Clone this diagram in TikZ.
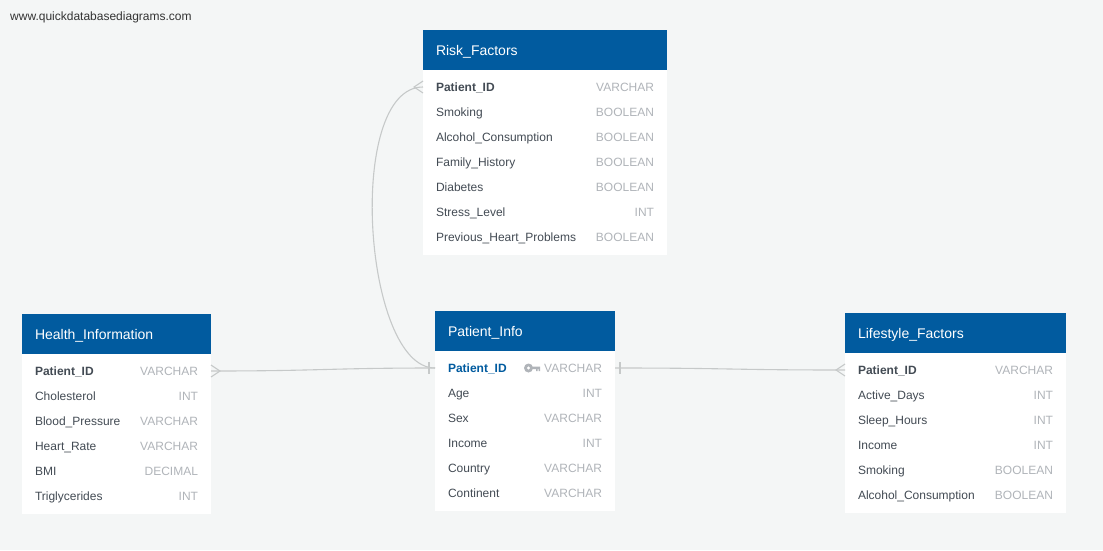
\documentclass[tikz,border=0pt]{standalone}
\usepackage{fontspec}
\setmainfont{Liberation Sans}
\usetikzlibrary{positioning}
\definecolor{pagebg}{HTML}{F4F6F6}
\definecolor{headblue}{HTML}{015B9F}
\definecolor{fieldgrey}{HTML}{434B54}
\definecolor{typegrey}{HTML}{B0B4B9}
\definecolor{linkgrey}{HTML}{C6C9C9}

\begin{document}
\begin{tikzpicture}[x=1pt,y=-1pt,link/.style={draw=linkgrey,line width=1.1pt},
                        title node/.style={anchor=north west,fill=headblue,text=white,font=\fontsize{14}{16}\selectfont,align=left,inner xsep=13pt,inner ysep=0pt,outer sep=0pt,minimum height=40pt,text height=13pt,text depth=3pt},
                        body node/.style={anchor=north west,fill=white,inner sep=0pt,outer sep=0pt},
                        field node/.style={anchor=west,inner sep=0pt,outer sep=0pt,text=fieldgrey,font=\fontsize{12}{14}\selectfont,text height=11pt,text depth=3pt},
                        pk node/.style={field node,font=\fontsize{12}{14}\selectfont\bfseries},
                        type node/.style={anchor=east,xshift=-13pt,inner sep=0pt,outer sep=0pt,text=typegrey,font=\fontsize{12}{14}\selectfont,text height=11pt,text depth=3pt}]

      \fill[pagebg] (0,0) rectangle (1103,550);
      \node[anchor=west,inner sep=0pt,text=black!80,font=\fontsize{12}{14}\selectfont,text height=11pt,text depth=3pt] (site) at (10,16) {www.quickdatabasediagrams.com};

      % Risk_Factors
      \node[title node,text width=218pt] (risk) at (423,30) {Risk\_Factors};
      \node[body node,minimum width=244pt,minimum height=185pt] (riskbody) at (risk.south west) {};
      \node[pk node] (risk1) at (436,87) {Patient\_ID};
      \node[below=25pt of risk1.west,field node] (risk2) {Smoking};
      \node[below=25pt of risk2.west,field node] (risk3) {Alcohol\_Consumption};
      \node[below=25pt of risk3.west,field node] (risk4) {Family\_History};
      \node[below=25pt of risk4.west,field node] (risk5) {Diabetes};
      \node[below=25pt of risk5.west,field node] (risk6) {Stress\_Level};
      \node[below=25pt of risk6.west,field node] (risk7) {Previous\_Heart\_Problems};
      \node[type node] (risk1t) at (riskbody.east |- risk1) {VARCHAR};
      \node[type node] (risk2t) at (riskbody.east |- risk2) {BOOLEAN};
      \node[type node] (risk3t) at (riskbody.east |- risk3) {BOOLEAN};
      \node[type node] (risk4t) at (riskbody.east |- risk4) {BOOLEAN};
      \node[type node] (risk5t) at (riskbody.east |- risk5) {BOOLEAN};
      \node[type node] (risk6t) at (riskbody.east |- risk6) {INT};
      \node[type node] (risk7t) at (riskbody.east |- risk7) {BOOLEAN};

      % Health_Information
      \node[title node,text width=163pt] (health) at (22,314) {Health\_Information};
      \node[body node,minimum width=189pt,minimum height=160pt] (healthbody) at (health.south west) {};
      \node[pk node] (health1) at (35,371) {Patient\_ID};
      \node[below=25pt of health1.west,field node] (health2) {Cholesterol};
      \node[below=25pt of health2.west,field node] (health3) {Blood\_Pressure};
      \node[below=25pt of health3.west,field node] (health4) {Heart\_Rate};
      \node[below=25pt of health4.west,field node] (health5) {BMI};
      \node[below=25pt of health5.west,field node] (health6) {Triglycerides};
      \node[type node] (health1t) at (healthbody.east |- health1) {VARCHAR};
      \node[type node] (health2t) at (healthbody.east |- health2) {INT};
      \node[type node] (health3t) at (healthbody.east |- health3) {VARCHAR};
      \node[type node] (health4t) at (healthbody.east |- health4) {VARCHAR};
      \node[type node] (health5t) at (healthbody.east |- health5) {DECIMAL};
      \node[type node] (health6t) at (healthbody.east |- health6) {INT};

      % Patient_Info
      \node[title node,text width=154pt] (patient) at (435,311) {Patient\_Info};
      \node[body node,minimum width=180pt,minimum height=160pt] (patientbody) at (patient.south west) {};
      \node[pk node,text=headblue] (patient1) at (448,368) {Patient\_ID};
      \node[below=25pt of patient1.west,field node] (patient2) {Age};
      \node[below=25pt of patient2.west,field node] (patient3) {Sex};
      \node[below=25pt of patient3.west,field node] (patient4) {Income};
      \node[below=25pt of patient4.west,field node] (patient5) {Country};
      \node[below=25pt of patient5.west,field node] (patient6) {Continent};
      \node[type node] (patient1t) at (patientbody.east |- patient1) {VARCHAR};
      \node[type node] (patient2t) at (patientbody.east |- patient2) {INT};
      \node[type node] (patient3t) at (patientbody.east |- patient3) {VARCHAR};
      \node[type node] (patient4t) at (patientbody.east |- patient4) {INT};
      \node[type node] (patient5t) at (patientbody.east |- patient5) {VARCHAR};
      \node[type node] (patient6t) at (patientbody.east |- patient6) {VARCHAR};

      % key in front of the primary key type
      \fill[typegrey,even odd rule] (528.5,368) circle (4.5pt) (528.5,368) circle (1.8pt);
      \fill[typegrey] (532,366.6) rectangle (540,369) (536,369) rectangle (537.5,371) (538.5,369) rectangle (540,371);

      % Lifestyle_Factors
      \node[title node,text width=195pt] (life) at (845,313) {Lifestyle\_Factors};
      \node[body node,minimum width=221pt,minimum height=160pt] (lifebody) at (life.south west) {};
      \node[pk node] (life1) at (858,370) {Patient\_ID};
      \node[below=25pt of life1.west,field node] (life2) {Active\_Days};
      \node[below=25pt of life2.west,field node] (life3) {Sleep\_Hours};
      \node[below=25pt of life3.west,field node] (life4) {Income};
      \node[below=25pt of life4.west,field node] (life5) {Smoking};
      \node[below=25pt of life5.west,field node] (life6) {Alcohol\_Consumption};
      \node[type node] (life1t) at (lifebody.east |- life1) {VARCHAR};
      \node[type node] (life2t) at (lifebody.east |- life2) {INT};
      \node[type node] (life3t) at (lifebody.east |- life3) {INT};
      \node[type node] (life4t) at (lifebody.east |- life4) {INT};
      \node[type node] (life5t) at (lifebody.east |- life5) {BOOLEAN};
      \node[type node] (life6t) at (lifebody.east |- life6) {BOOLEAN};

      % ports on the table edges
      \coordinate (riskport) at (riskbody.west |- risk1);
      \coordinate (healthport) at (healthbody.east |- health1);
      \coordinate (patientin) at (patientbody.west |- patient1);
      \coordinate (patientout) at (patientbody.east |- patient1);
      \coordinate (lifeport) at (lifebody.west |- life1);

      \draw[link] (riskport) .. controls (345,87) and (363,368) .. (patientin);
      \draw[link] (healthport) .. controls (320,371) and (330,368) .. (patientin);
      \draw[link] (patientout) .. controls (730,368) and (730,370) .. (lifeport);

      % crow's feet
      \draw[link] ([yshift=6pt]riskport) -- ++(-9,6) -- ++(9,6);
      \draw[link] ([yshift=6pt]healthport) -- ++(9,6) -- ++(-9,6);
      \draw[link] ([yshift=6pt]lifeport) -- ++(-9,6) -- ++(9,6);
      % single bars
      \draw[link] ([xshift=-6pt,yshift=6pt]patientin) -- ++(0,12);
      \draw[link] ([xshift=5pt,yshift=6pt]patientout) -- ++(0,12);
    \end{tikzpicture}
\end{document}
